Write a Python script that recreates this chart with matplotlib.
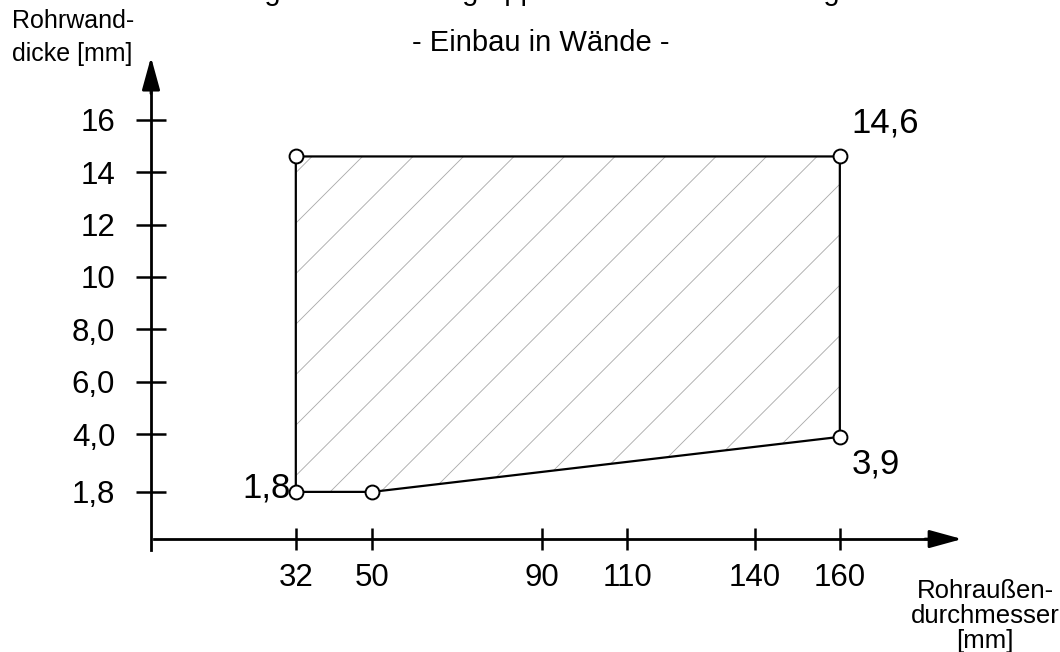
import numpy as np
import matplotlib
matplotlib.use("Agg")
import matplotlib.pyplot as plt
from matplotlib.patches import Polygon

plt.rcParams['font.family'] = ['Liberation Sans', 'DejaVu Sans']

# Daten
durchmesser = [32, 50, 160, 160, 32]          # Rohraussendurchmesser [mm]
wanddicke = [1.8, 1.8, 3.9, 14.6, 14.6]       # Rohrwanddicke [mm]
x_ticks = [32, 50, 90, 110, 140, 160]
y_ticks = [16, 14, 12, 10, 8, 6, 4, 1.8]
y_labels = ["16", "14", "12", "10", "8,0", "6,0", "4,0", "1,8"]
punkt_labels = [(32, 1.8, "1,8"), (160, 14.6, "14,6"), (160, 3.9, "3,9")]

W, H = 1060, 652
fig = plt.figure(figsize=(W / 100, H / 100), dpi=100)
ax = fig.add_axes([0, 0, 1, 1])
ax.set_xlim(-37.6, 211.8)
ax.set_ylim(-4.31, 20.57)
ax.patch.set_visible(False)

# Achsen (Spines) mit Ticks
x0 = -2.07
for s in ['top', 'right']:
    ax.spines[s].set_visible(False)
ax.spines['left'].set_position(('data', x0))
ax.spines['bottom'].set_position(('data', 0))
ax.spines['left'].set_bounds(-0.42, 17.5)
ax.spines['bottom'].set_bounds(-1.4, 183)
for s in ['left', 'bottom']:
    ax.spines[s].set_linewidth(2.0)

ax.set_xticks(x_ticks)
ax.set_xticklabels([str(v) for v in x_ticks])
ax.set_yticks(y_ticks)
ax.set_yticklabels(y_labels)
ax.tick_params(axis='y', direction='inout', length=21.6, width=1.8, pad=15, labelsize=22.5)
ax.tick_params(axis='x', direction='inout', length=16, width=1.8, pad=9, labelsize=22.5)

# Pfeile
pfeil = dict(arrowstyle='-|>,head_length=0.8,head_width=0.22', lw=2.0, color='k',
             mutation_scale=25, shrinkA=0, shrinkB=0)
ax.annotate('', xy=(x0, 18.39), xytext=(x0, 17.0), arrowprops=pfeil)
ax.annotate('', xy=(188.75, 0), xytext=(180, 0), arrowprops=pfeil)

# Flaeche mit Schraffur
poly = Polygon(np.column_stack([durchmesser, wanddicke]), closed=True,
               facecolor='none', edgecolor='k', lw=1.6, zorder=3)
ax.add_patch(poly)
clip = Polygon(np.column_stack([durchmesser, wanddicke]), closed=True,
               facecolor='none', edgecolor='none', transform=ax.transData)
ax.add_patch(clip)
xs = np.array([0, W])
for c in np.arange(32 - 50.5 * 20, H, 50.5):
    ln, = ax.plot(xs, xs + c, color='#a8a8a8', lw=0.6, transform=None, zorder=2)
    ln.set_clip_path(clip)

ax.plot(durchmesser, wanddicke, 'o', ms=10, mfc='white', mec='k', mew=1.4, zorder=4)

# Punktbeschriftungen
ax.annotate(punkt_labels[0][2], (punkt_labels[0][0], punkt_labels[0][1]),
            xytext=(-5, 4), textcoords='offset pixels', ha='right', va='center', fontsize=25)
ax.annotate(punkt_labels[1][2], (punkt_labels[1][0], punkt_labels[1][1]),
            xytext=(12, 33), textcoords='offset pixels', ha='left', va='center', fontsize=25)
ax.annotate(punkt_labels[2][2], (punkt_labels[2][0], punkt_labels[2][1]),
            xytext=(12, -27), textcoords='offset pixels', ha='left', va='center', fontsize=25)

# Achsenbeschriftungen und Titel
fig.text(12 / W, 1 - 9 / H, "Rohrwand-\ndicke [mm]", ha='left', va='top', fontsize=18,
         linespacing=1.45)
fig.text(985 / W, 1 - 648 / H, "Rohraußen-\ndurchmesser\n[mm]", ha='center', va='baseline',
         fontsize=18.5, linespacing=1.05, multialignment='center')
fig.text(483 / W, 1.0, "Anwendungsbereich Rohrgruppe A - Brandabschottung", ha='center',
         va='baseline', fontsize=21)
fig.text(541 / W, 1 - 43 / H, "- Einbau in Wände -", ha='center', va='center', fontsize=21)

fig.savefig("out.png", dpi=100)
